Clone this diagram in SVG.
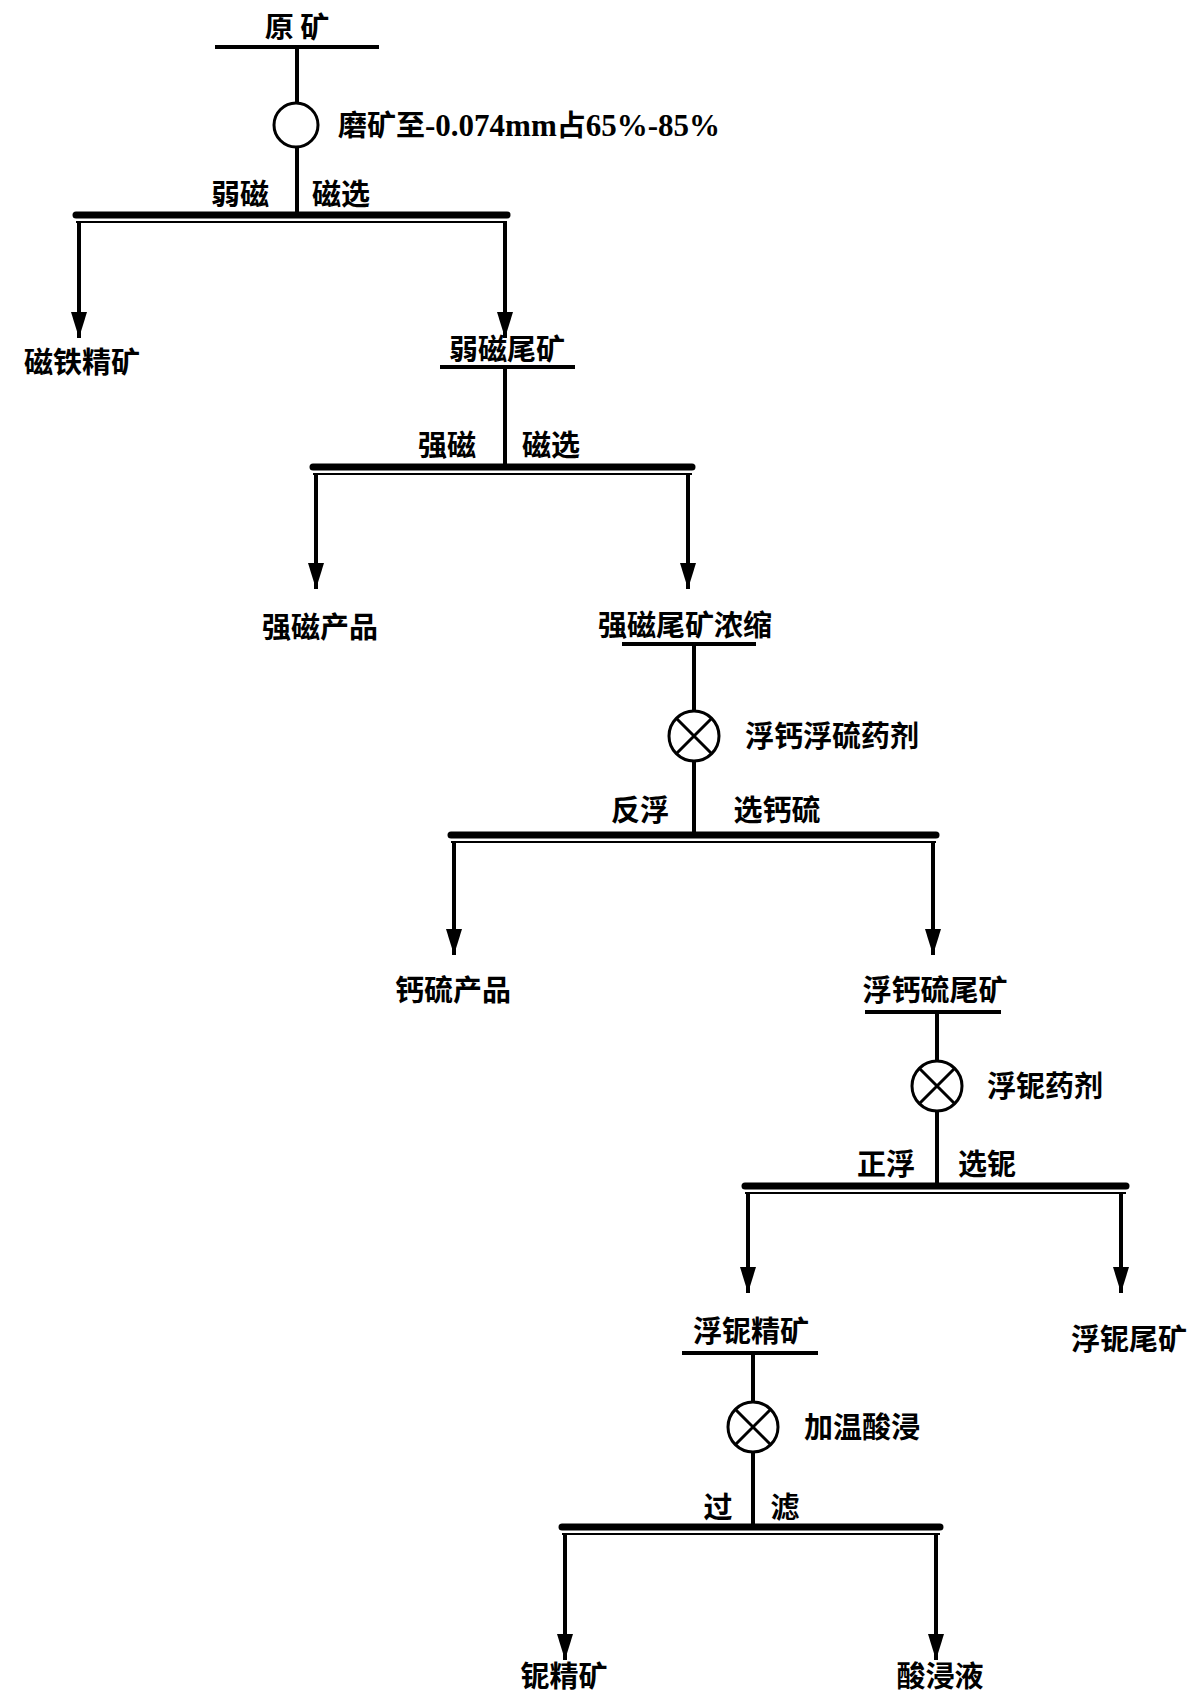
<svg xmlns="http://www.w3.org/2000/svg" width="1200" height="1693" viewBox="0 0 1200 1693">
<style>
text{font-family:"Noto Sans CJK SC","Liberation Serif",serif;font-weight:bold;font-size:29px;fill:#000}
.s{font-family:"Liberation Serif",serif;font-size:31px}
.m{text-anchor:middle}
.l{stroke:#000;stroke-width:4;fill:none}
.bar{stroke:#000;stroke-width:7;stroke-linecap:round}
.thin{stroke:#000;stroke-width:2}
.c{stroke:#000;stroke-width:3;fill:#fff}
</style>
<defs>
<marker id="ar" markerWidth="16" markerHeight="26" refX="8" refY="26" markerUnits="userSpaceOnUse" viewBox="0 0 16 26"><path d="M0,0 L16,0 L8,26z" fill="#000"/></marker></defs>
<g id="connectors">
<path class="l" d="M297,47V103M297,147V213"/>
<path class="l" d="M505,367V464"/>
<path class="l" d="M694,644V711M694,761V835"/>
<path class="l" d="M937,1012V1061M937,1111V1184"/>
<path class="l" d="M753,1353V1402M753,1452V1527"/>
<path class="l" marker-end="url(#ar)" d="M79,222V338"/>
<path class="l" marker-end="url(#ar)" d="M505,222V338"/>
<path class="l" marker-end="url(#ar)" d="M316,474V589"/>
<path class="l" marker-end="url(#ar)" d="M688,474V589"/>
<path class="l" marker-end="url(#ar)" d="M454,842V955"/>
<path class="l" marker-end="url(#ar)" d="M933,842V955"/>
<path class="l" marker-end="url(#ar)" d="M748,1193V1293"/>
<path class="l" marker-end="url(#ar)" d="M1121,1193V1293"/>
<path class="l" marker-end="url(#ar)" d="M565,1534V1660"/>
<path class="l" marker-end="url(#ar)" d="M936,1534V1660"/>
</g>
<g id="n-raw"><line class="l" x1="215" y1="47" x2="379" y2="47"/><text class="m" x="297" y="38">原 矿</text></g>
<g id="n-grind"><circle class="c" cx="296" cy="125" r="22"/><text x="338" y="136">磨矿至<tspan class="s">-0.074mm</tspan>占<tspan class="s">65%-85%</tspan></text></g>
<g id="bar1"><line class="bar" x1="76" y1="215" x2="507" y2="215"/><line class="thin" x1="76" y1="222" x2="507" y2="222"/><text class="m" x="240" y="205">弱磁</text><text class="m" x="341" y="205">磁选</text></g>
<g id="n-mag"><text class="m" x="82" y="373">磁铁精矿</text></g>
<g id="n-weaktail"><text class="m" x="507" y="360">弱磁尾矿</text><line class="l" x1="440" y1="367" x2="575" y2="367"/></g>
<g id="bar2"><line class="bar" x1="313" y1="467" x2="692" y2="467"/><line class="thin" x1="313" y1="474" x2="692" y2="474"/><text class="m" x="447" y="456">强磁</text><text class="m" x="551" y="456">磁选</text></g>
<g id="n-strong"><text class="m" x="320" y="638">强磁产品</text></g>
<g id="n-strongtail"><text class="m" x="685" y="636">强磁尾矿浓缩</text><line class="l" x1="622" y1="644" x2="756" y2="644"/></g>
<g id="n-reag1"><circle class="c" cx="694" cy="736" r="25"/><path class="l" d="M676,718L712,754M712,718L676,754" style="stroke-width:3"/><text x="745" y="747">浮钙浮硫药剂</text></g>
<g id="bar3"><line class="bar" x1="451" y1="835" x2="936" y2="835"/><line class="thin" x1="451" y1="842" x2="936" y2="842"/><text class="m" x="640" y="821">反浮</text><text class="m" x="777" y="821">选钙硫</text></g>
<g id="n-cas"><text class="m" x="453" y="1001">钙硫产品</text></g>
<g id="n-castail"><text class="m" x="935" y="1001">浮钙硫尾矿</text><line class="l" x1="865" y1="1012" x2="1001" y2="1012"/></g>
<g id="n-reag2"><circle class="c" cx="937" cy="1086" r="25"/><path class="l" d="M919,1068L955,1104M955,1068L919,1104" style="stroke-width:3"/><text x="987" y="1097">浮铌药剂</text></g>
<g id="bar4"><line class="bar" x1="745" y1="1186" x2="1126" y2="1186"/><line class="thin" x1="745" y1="1193" x2="1126" y2="1193"/><text class="m" x="886" y="1175">正浮</text><text class="m" x="987" y="1175">选铌</text></g>
<g id="n-nbcon"><text class="m" x="751" y="1342">浮铌精矿</text><line class="l" x1="682" y1="1353" x2="818" y2="1353"/></g>
<g id="n-nbtail"><text class="m" x="1129" y="1350">浮铌尾矿</text></g>
<g id="n-leach"><circle class="c" cx="753" cy="1427" r="25"/><path class="l" d="M735,1409L771,1445M771,1409L735,1445" style="stroke-width:3"/><text x="804" y="1438">加温酸浸</text></g>
<g id="bar5"><line class="bar" x1="562" y1="1527" x2="940" y2="1527"/><line class="thin" x1="562" y1="1534" x2="940" y2="1534"/><text class="m" x="718" y="1518">过</text><text class="m" x="785" y="1518">滤</text></g>
<g id="n-nb"><text class="m" x="564" y="1687">铌精矿</text></g>
<g id="n-acid"><text class="m" x="940" y="1687">酸浸液</text></g>
</svg>
